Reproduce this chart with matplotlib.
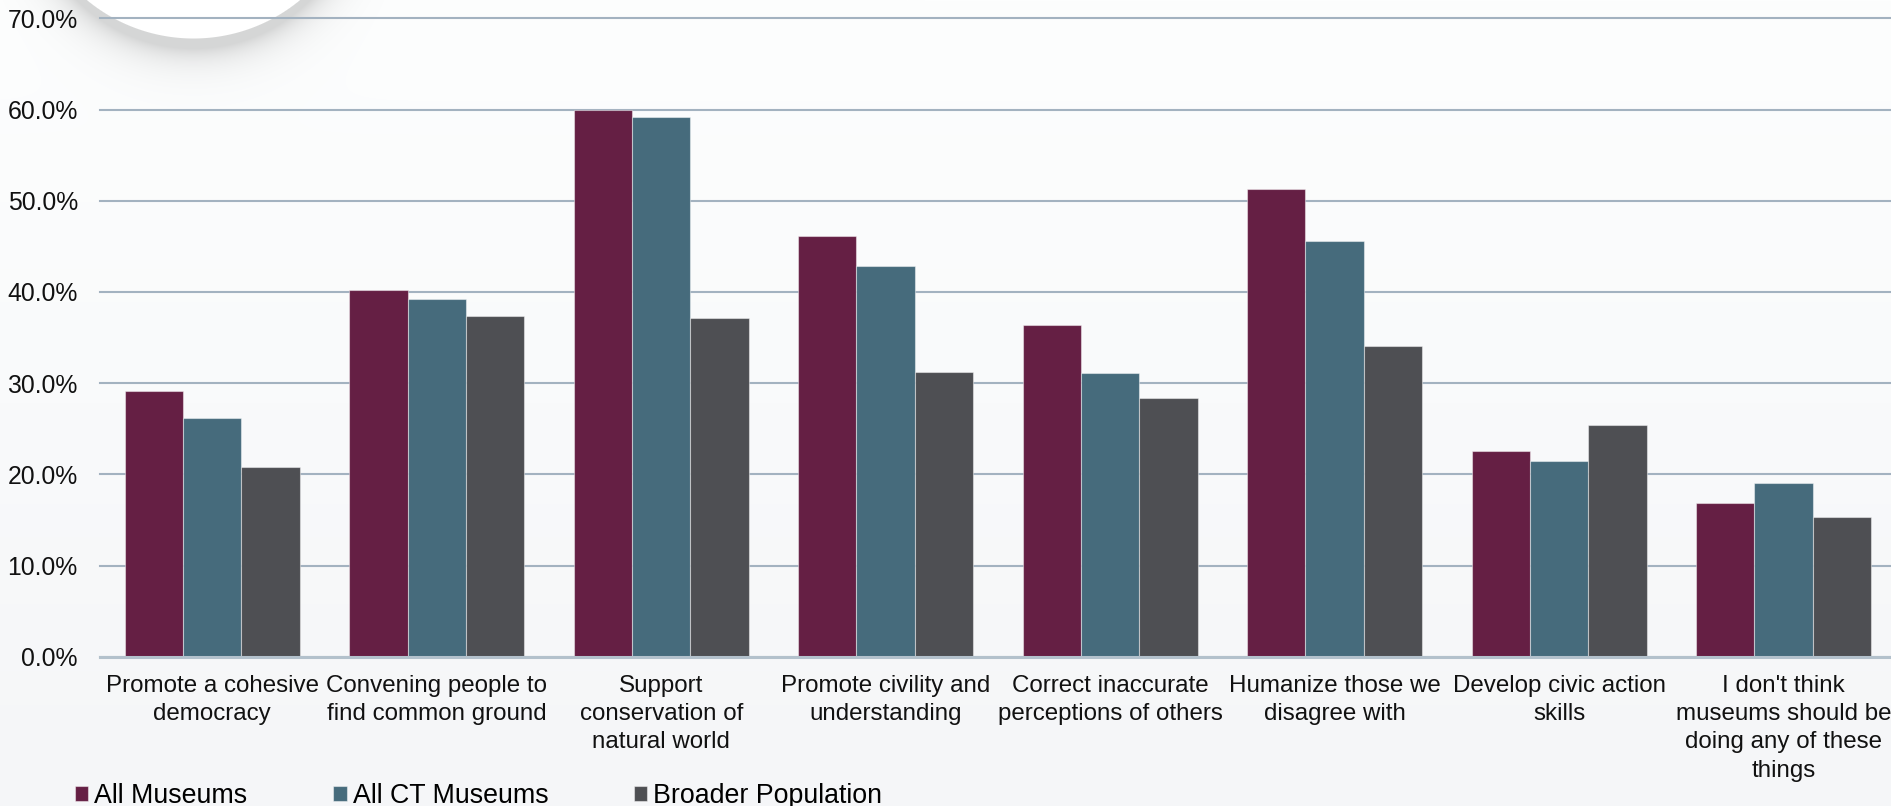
import numpy as np
import matplotlib
matplotlib.use("Agg")
import matplotlib.pyplot as plt

plt.rcParams['font.family'] = ['Liberation Sans', 'DejaVu Sans']

categories = [
    "Promote a cohesive\ndemocracy",
    "Convening people to\nfind common ground",
    "Support\nconservation of\nnatural world",
    "Promote civility and\nunderstanding",
    "Correct inaccurate\nperceptions of others",
    "Humanize those we\ndisagree with",
    "Develop civic action\nskills",
    "I don't think\nmuseums should be\ndoing any of these\nthings",
]
series_names = ["All Museums", "All CT Museums", "Broader Population"]
all_museums = [29.1, 40.2, 59.9, 46.1, 36.4, 51.3, 22.6, 16.9]
all_ct_museums = [26.2, 39.2, 59.2, 42.8, 31.1, 45.6, 21.5, 19.1]
broader_population = [20.8, 37.4, 37.1, 31.2, 28.4, 34.1, 25.4, 15.3]
y_ticks = [0, 10, 20, 30, 40, 50, 60, 70]

colors = ["#651f44", "#466b7c", "#4e4f53"]

W, H = 1891, 806
DPI = 100
fig = plt.figure(figsize=(W / DPI, H / DPI), dpi=DPI)

# ---- background: soft vertical gradient with a white disc and its drop shadow
yy, xx = np.mgrid[0:H, 0:W].astype(float)
top = np.array([0xfd, 0xfe, 0xfe]) / 255.0
bot = np.array([0xf5, 0xf6, 0xf8]) / 255.0
t = (yy / (H - 1))[..., None]
img = top * (1 - t) + bot * t

cx, cy, r = 193.0, -129.0, 167.0
ds = np.sqrt((xx - cx) ** 2 + (yy - (cy + 12)) ** 2) - (r - 2)
shadow = 0.24 * np.exp(-np.clip(ds, 0, None) / 16.0)
img = img * (1 - shadow[..., None]) + np.array([0.35, 0.35, 0.35]) * shadow[..., None]
d = np.sqrt((xx - cx) ** 2 + (yy - cy) ** 2)
disc = np.clip(r - d + 0.5, 0, 1)[..., None]
img = img * (1 - disc) + 1.0 * disc

bg = fig.add_axes([0, 0, 1, 1], zorder=-10)
bg.imshow(img, extent=(0, W, H, 0), aspect="auto", interpolation="nearest")
bg.set_axis_off()

# ---- main axes
left_px, right_px = 100.0, 1895.8
y0_px, y70_px = 656.7, 18.3
ax = fig.add_axes([left_px / W, 1 - y0_px / H,
                   (right_px - left_px) / W, (y0_px - y70_px) / H])
ax.patch.set_alpha(0)

x = np.arange(len(categories))
bw = 0.26
series = [all_museums, all_ct_museums, broader_population]
handles = []
for i, (vals, name, c) in enumerate(zip(series, series_names, colors)):
    b = ax.bar(x + (i - 1) * bw, vals, width=bw, color=c, label=name,
               edgecolor=(1, 1, 1, 0.45), linewidth=0.8, zorder=3)
    handles.append(b)

ax.set_xlim(-0.5, len(categories) - 0.5)
ax.set_ylim(0, 70)
ax.set_yticks(y_ticks)
ax.set_yticklabels([f"{v:.1f}%" for v in y_ticks])
ax.set_xticks(x)
ax.set_xticklabels(categories, linespacing=1.37)

ax.yaxis.grid(True, color="#a3b2c0", linewidth=1.5, zorder=1)
for gl in ax.get_ygridlines():
    gl.set_clip_on(False)
ax.set_axisbelow(True)

for s in ["top", "right", "left"]:
    ax.spines[s].set_visible(False)
ax.spines["bottom"].set_color("#b3c1cc")
ax.spines["bottom"].set_linewidth(2.2)
ax.spines["bottom"].set_zorder(4)

ax.tick_params(axis="y", length=0, pad=16, labelsize=17.8, labelcolor="#111111")
ax.tick_params(axis="x", length=0, pad=13, labelsize=17.4, labelcolor="#111111")

leg = fig.legend(handles=handles, labels=series_names, loc="center left",
                 bbox_to_anchor=(75 / W, 1 - 796 / H), ncol=3, frameon=False,
                 fontsize=19.3, handlelength=0.5, handleheight=0.5,
                 handletextpad=0.22, columnspacing=3.2, borderpad=0,
                 borderaxespad=0)

fig.savefig("out.png", dpi=DPI)
